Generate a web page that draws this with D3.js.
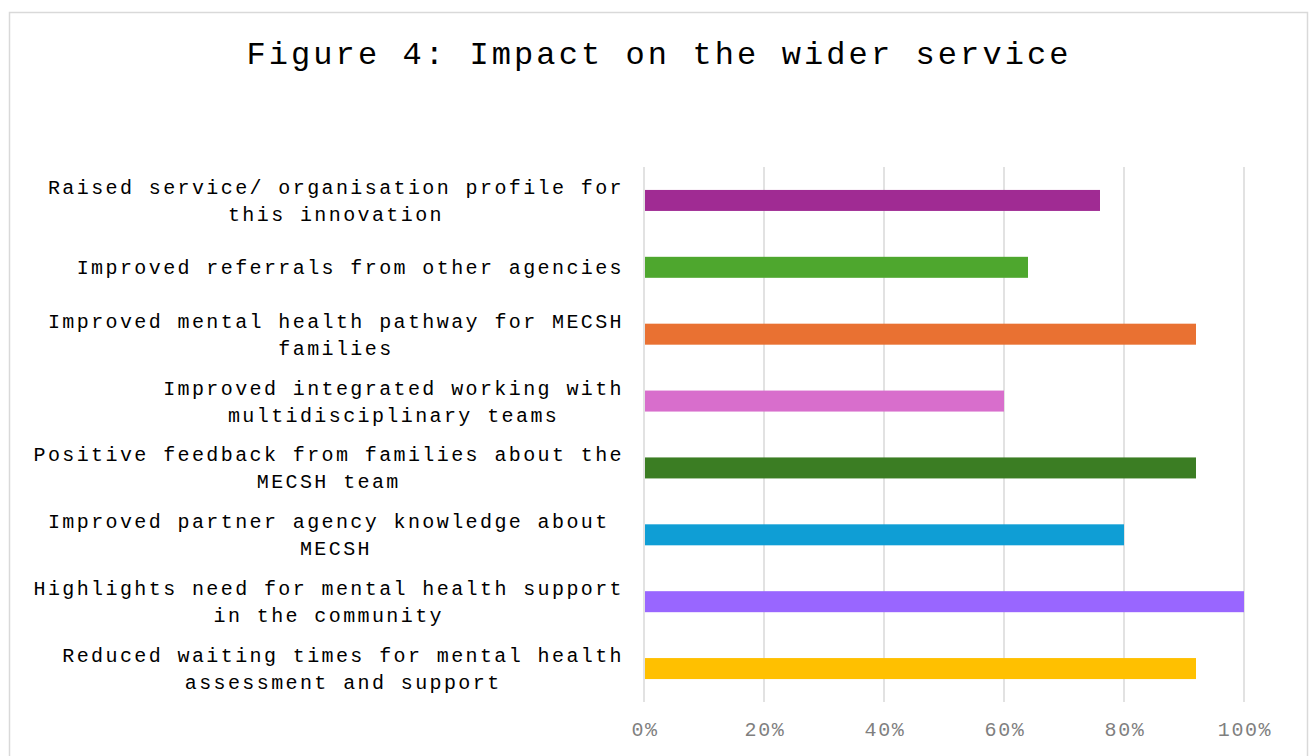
<!DOCTYPE html>
<meta charset="utf-8">
<head>
<script src="https://d3js.org/d3.v7.min.js"></script>
<style>
    body { margin: 0; background: #fff; }
    .lbl, .title, .tick-lbl {
        font-family: "Liberation Mono", "Courier New", monospace;
        white-space: pre;
    }
    .lbl { font-size: 20px; letter-spacing: 2.4px; fill: #000; }
    .title { font-size: 32px; letter-spacing: 3.1px; fill: #000; }
    .tick-lbl { font-size: 20px; letter-spacing: 1.6px; fill: #7f7f7f; }
    .grid { stroke: #d9d9d9; stroke-width: 1.5px; }
</style>
</head>
<body>
<svg id="chart" width="1314" height="756"></svg>

<script>
    // categories top to bottom, each split in the lines shown on the chart
    var labels = [
      ["Raised service/ organisation profile for", "this innovation"],
      ["Improved referrals from other agencies"],
      ["Improved mental health pathway for MECSH", "families"],
      ["Improved integrated working with", "multidisciplinary teams"],
      ["Positive feedback from families about the", "MECSH team"],
      ["Improved partner agency knowledge about ", "MECSH"],
      ["Highlights need for mental health support", "in the community"],
      ["Reduced waiting times for mental health", "assessment and support"]
    ];
    var values = [76, 64, 92, 60, 92, 80, 100, 92];
    var colors = ["#a02b93", "#4ea72e", "#e97132", "#d86ecc", "#3b7d23", "#0f9ed5", "#9966ff", "#ffc000"];
    var ticks = [0, 20, 40, 60, 80, 100];
    var title = "Figure 4: Impact on the wider service";

    var svg = d3.select("#chart");

    // chart frame
    svg.append("rect")
      .attr("x", 9.5).attr("y", 12.5)
      .attr("width", 1298).attr("height", 800)
      .attr("fill", "none")
      .attr("stroke", "#d9d9d9")
      .attr("stroke-width", 1.5);

    svg.append("text")
      .attr("class", "title")
      .attr("x", 659).attr("y", 64)
      .attr("text-anchor", "middle")
      .text(title);

    var x = d3.scaleLinear().domain([0, 100]).range([644, 1244]);
    var y = d3.scaleBand()
      .domain(d3.range(labels.length))
      .range([167, 702])
      .paddingInner(0.686)
      .paddingOuter(0.343);

    // gridlines
    svg.append("g").selectAll("line")
      .data(ticks)
      .enter().append("line")
      .attr("class", "grid")
      .attr("x1", function(d) { return x(d); })
      .attr("x2", function(d) { return x(d); })
      .attr("y1", 167).attr("y2", 702);

    // tick labels
    svg.append("g").selectAll("text")
      .data(ticks)
      .enter().append("text")
      .attr("class", "tick-lbl")
      .attr("x", function(d) { return x(d) + 1; })
      .attr("y", 736)
      .attr("text-anchor", "middle")
      .text(function(d) { return d + "%"; });

    // bars
    svg.append("g").selectAll("rect")
      .data(values)
      .enter().append("rect")
      .attr("x", x(0) + 1)
      .attr("y", function(d, i) { return y(i); })
      .attr("width", function(d) { return x(d) - x(0) - 1; })
      .attr("height", y.bandwidth())
      .attr("fill", function(d, i) { return colors[i]; });

    // category labels, each block centred on its widest line, right edge at 624
    var lineH = 27;
    var right = 624;
    labels.forEach(function(lines, i) {
      var cy = y(i) + y.bandwidth() / 2;
      var g = svg.append("g");
      var texts = lines.map(function(s, j) {
        return g.append("text")
          .attr("class", "lbl")
          .attr("y", cy + (j - (lines.length - 1) / 2) * lineH + 7)
          .text(s);
      });
      var lens = texts.map(function(t) { return t.node().getComputedTextLength(); });
      var maxLen = d3.max(lens);
      var center = right - maxLen / 2;
      texts.forEach(function(t, j) {
        t.attr("x", center - lens[j] / 2);
      });
    });
</script>
</body>
